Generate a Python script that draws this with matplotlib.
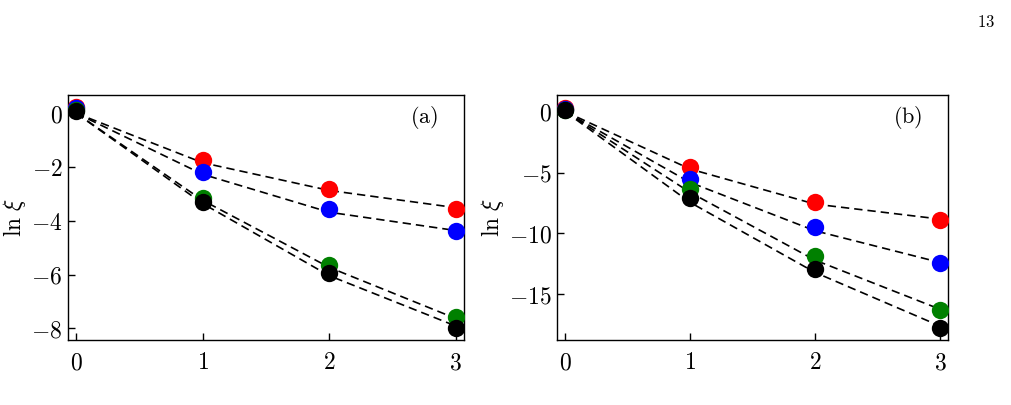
import matplotlib
matplotlib.use("Agg")
import matplotlib.pyplot as plt
import numpy as np

plt.rcParams['mathtext.fontset'] = 'cm'
plt.rcParams['font.family'] = 'serif'
plt.rcParams['font.serif'] = ['DejaVu Serif']

x = [0, 1, 2, 3]
colors = ['red', 'blue', 'green', 'black']

# panel (a): ln xi, measured points
pts_a = {
    'red':   [0.25, -1.72, -2.80, -3.55],
    'blue':  [0.18, -2.18, -3.55, -4.38],
    'green': [0.12, -3.14, -5.64, -7.58],
    'black': [0.08, -3.30, -5.94, -8.00],
}
# panel (a): dashed fit curves
fit_a = {
    'red':   [0.0, -1.84, -2.87, -3.51],
    'blue':  [0.0, -2.27, -3.68, -4.36],
    'green': [0.0, -3.24, -5.73, -7.63],
    'black': [0.0, -3.36, -6.04, -7.91],
}

# panel (b)
pts_b = {
    'red':   [0.30, -4.52, -7.40, -8.88],
    'blue':  [0.20, -5.53, -9.51, -12.44],
    'green': [0.15, -6.36, -11.84, -16.30],
    'black': [0.10, -7.10, -12.93, -17.73],
}
fit_b = {
    'red':   [0.0, -4.71, -7.59, -8.82],
    'blue':  [0.0, -5.81, -9.78, -12.38],
    'green': [0.0, -6.63, -12.19, -16.22],
    'black': [0.0, -7.45, -13.20, -17.60],
}

yticks_a = [0, -2, -4, -6, -8]
yticks_b = [0, -5, -10, -15]


def drawPanel(ax, pts, fit, yticks, ylim, tag):
    for c in colors:
        ax.plot(x, fit[c], color='black', lw=1.2, dashes=(5, 3), zorder=2)
    for c in colors:
        ax.plot(x, pts[c], 'o', color=c, ms=12.5, mec='none', zorder=3)
    ax.set_xlim(-0.065, 3.065)
    ax.set_ylim(*ylim)
    ax.set_xticks(x)
    ax.set_xticklabels([f'${v}$' for v in x])
    ax.set_yticks(yticks)
    ax.set_yticklabels([f'${v}$' for v in yticks])
    ax.tick_params(direction='in', length=5, width=1, labelsize=17, pad=8)
    ax.tick_params(axis='y', pad=4)
    ax.set_ylabel(r'$\ln\,\xi$', fontsize=17, labelpad=2)
    for s in ax.spines.values():
        s.set_linewidth(1.0)
    ax.text(0.935, 0.91, tag, transform=ax.transAxes, fontsize=16,
            ha='right', va='center')


fig = plt.figure(figsize=(10.11, 4.05), dpi=100)
ax1 = fig.add_axes([0.0673, 0.1605, 0.3917, 0.605])
ax2 = fig.add_axes([0.551, 0.1605, 0.3867, 0.605])

drawPanel(ax1, pts_a, fit_a, yticks_a, (-8.43, 0.68), r'$\mathrm{(a)}$')
drawPanel(ax2, pts_b, fit_b, yticks_b, (-18.75, 1.37), r'$\mathrm{(b)}$')

fig.text(0.975, 0.945, r'$13$', fontsize=12, ha='center', va='center')

fig.savefig('out.png', dpi=100)
